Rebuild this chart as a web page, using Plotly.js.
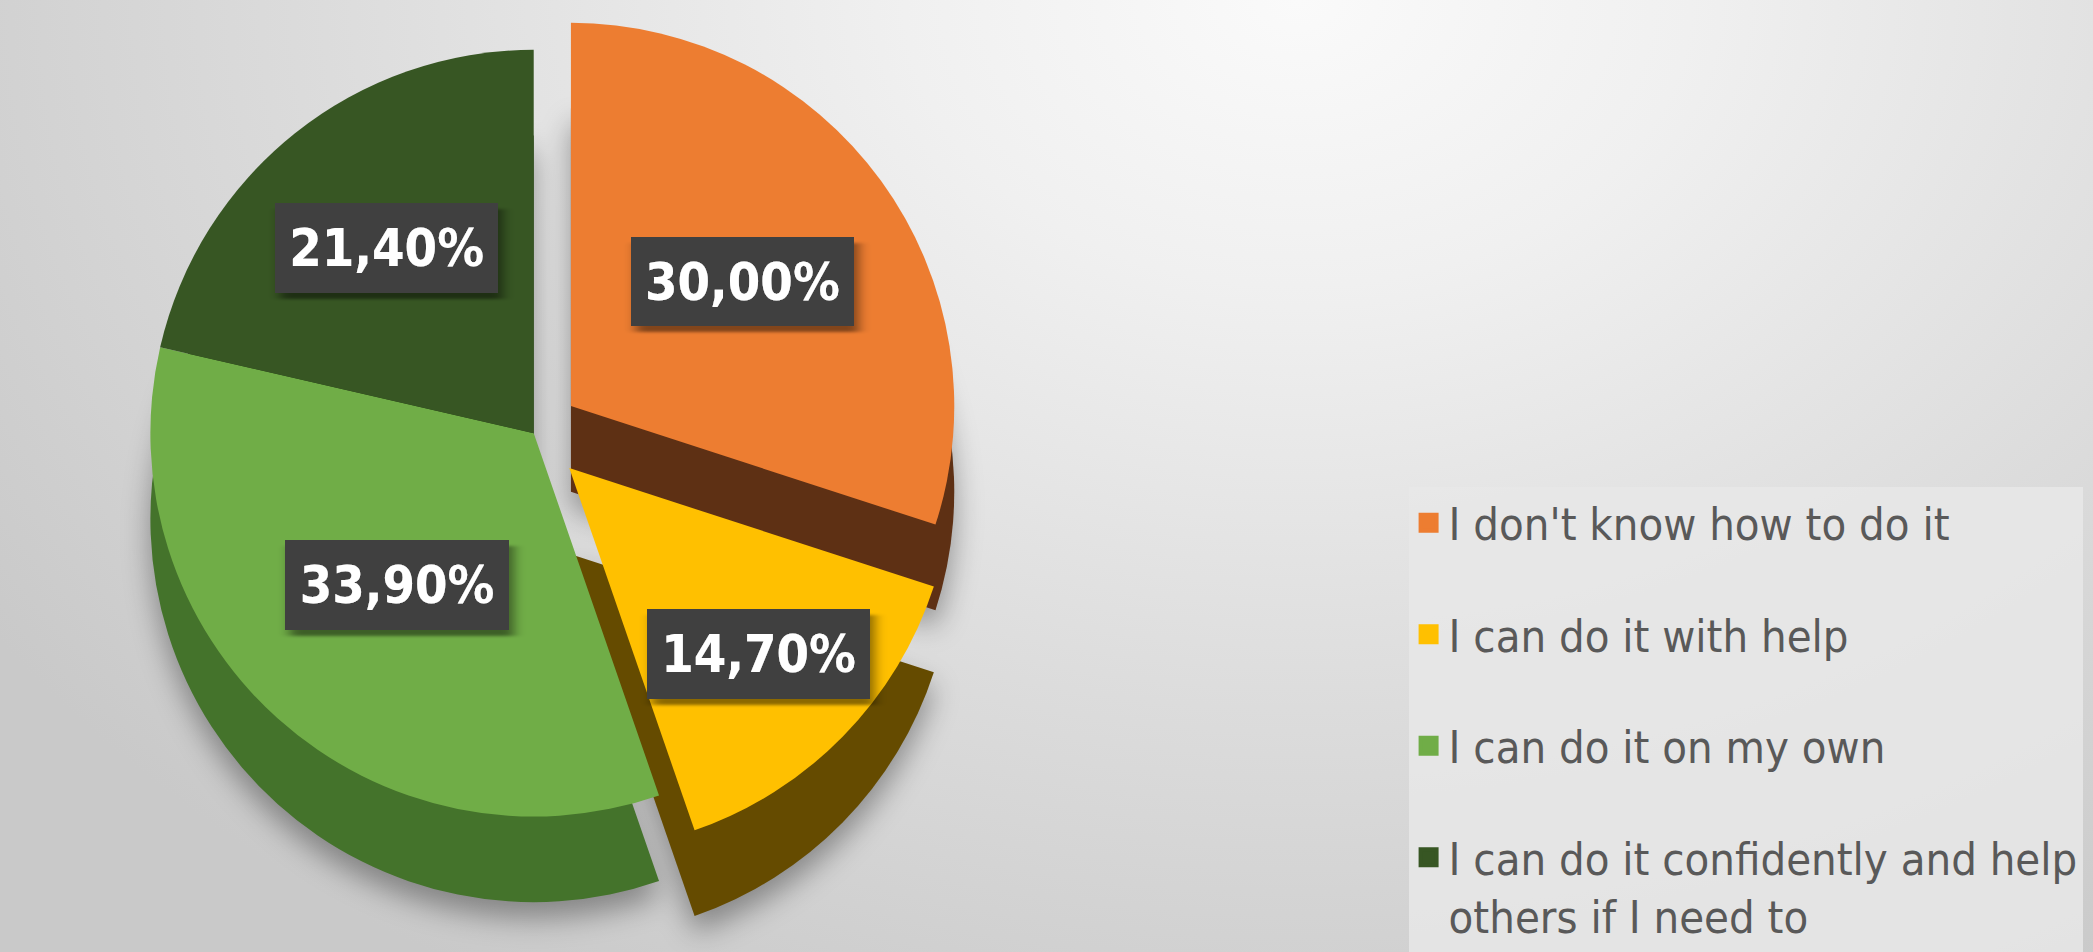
<!DOCTYPE html>
<html><head><meta charset="utf-8">
<script src="https://cdn.plot.ly/plotly-3.0.1.min.js"></script>
<style>
html,body{margin:0;padding:0;width:2093px;height:952px;overflow:hidden;}
body{background: radial-gradient(ellipse 75% 120% at 62% 0%, #fafafa 0%, #f0f0f0 25%, #dcdcdc 62%, #c9c9c9 100%);}
#chart{width:2093px;height:952px;}
.pielayer .trace:first-child{filter: drop-shadow(0px 16px 14px rgba(0,0,0,0.35));}
g.slicetext{filter:url(#lblbox);}
</style></head><body>
<svg width="0" height="0" style="position:absolute"><defs>
<filter id="lblbox" x="-0.25" y="-0.7" width="1.55" height="2.5" primitiveUnits="objectBoundingBox">
<feFlood flood-color="#404040" x="-0.07" y="-0.24" width="1.14" height="1.48" result="bg"/>
<feDropShadow in="bg" dx="0.025" dy="0.1" stdDeviation="0.03" flood-color="#000000" flood-opacity="0.45" x="-0.25" y="-0.7" width="1.55" height="2.5" result="sh"/>
<feMerge x="-0.25" y="-0.7" width="1.55" height="2.5"><feMergeNode in="sh"/><feMergeNode in="SourceGraphic"/></feMerge>
</filter></defs></svg>
<div id="chart"></div>
<script>
const categories = [
  "I don't know how to do it",
  "I can do it with help",
  "I can do it on my own",
  "I can do it confidently and help<br>others if I need to"
];
const values = [30.0, 14.7, 33.9, 21.4];
const topColors = ['#ED7D31', '#FFC000', '#70AD47', '#375623'];
const sideColors = ['#5E3014', '#654B00', '#44732B', '#263F18'];
const pullOut = [0.12, 0.13, 0, 0];

const depthPie = {
  type: 'pie', values: values, labels: categories, sort: false,
  direction: 'clockwise', rotation: 0, pull: pullOut,
  marker: {colors: sideColors, line: {width: 0}},
  textinfo: 'none', hoverinfo: 'skip', showlegend: false,
  domain: {x: [0, 0.51], y: [0, 0.91]}
};
const topPie = {
  type: 'pie', values: values, labels: categories, sort: false,
  direction: 'clockwise', rotation: 0, pull: pullOut,
  marker: {colors: topColors, line: {width: 0}},
  texttemplate: '%{percent:.2%}', textposition: 'inside',
  insidetextorientation: 'horizontal',
  textfont: {family: 'DejaVu Sans Condensed, sans-serif', size: 52, color: '#ffffff', weight: 'bold'},
  showlegend: false,
  domain: {x: [0, 0.51], y: [0.09, 1]}
};
const legendTraces = categories.map((c, i) => ({
  type: 'scatter', mode: 'markers', x: [null], y: [null], name: c,
  legendgroup: 'g' + i, showlegend: true, hoverinfo: 'skip',
  marker: {symbol: 'square', size: 16, color: topColors[i], line: {width: 4, color: topColors[i]}}
}));

const layout = {
  width: 2093, height: 952,
  margin: {l: 0, r: 0, t: 0, b: 0},
  paper_bgcolor: 'rgba(0,0,0,0)', plot_bgcolor: 'rgba(0,0,0,0)',
  separators: ', ',
  xaxis: {visible: false}, yaxis: {visible: false},
  showlegend: true,
  legend: {
    x: 0.673, y: 0, xanchor: 'left', yanchor: 'bottom',
    bgcolor: 'rgba(232,232,232,0.85)', borderwidth: 0,
    font: {family: 'DejaVu Sans Condensed, sans-serif', size: 45, color: '#595959'},
    tracegroupgap: 50, valign: 'top', itemclick: false, itemdoubleclick: false
  }
};
Plotly.newPlot('chart', [depthPie, topPie].concat(legendTraces), layout, {displayModeBar: false, staticPlot: true});
</script></body></html>
